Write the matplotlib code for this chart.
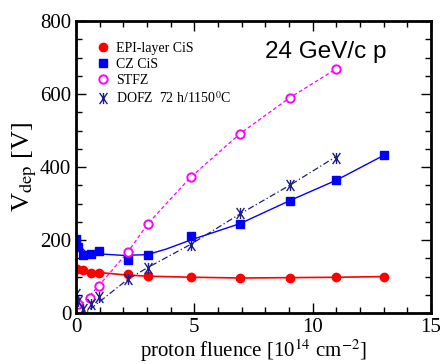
import matplotlib.pyplot as plt
from matplotlib.path import Path
from matplotlib.ticker import MultipleLocator

plt.rcParams['font.family'] = ['Liberation Serif', 'DejaVu Serif']
plt.rcParams['mathtext.fontset'] = 'stix'

# measured points (fluence in 1e14 cm^-2, V_dep in V)
epi_x = [0.03, 0.3, 0.62, 0.98, 2.18, 3.04, 4.86, 6.94, 9.03, 11.0, 13.0]
epi_y = [120, 117, 111, 109, 107, 101, 98, 95, 97, 98, 100]

cz_x = [0.0, 0.1, 0.3, 0.62, 0.98, 2.18, 3.04, 4.84, 6.93, 9.03, 11.0, 13.0]
cz_y = [204, 182, 160, 163, 171, 146, 160, 211, 245, 308, 364, 432]

stfz_x = [0.1, 0.6, 0.98, 2.18, 3.04, 4.84, 6.94, 9.03, 10.97]
stfz_y = [25, 40, 75, 167, 245, 372, 492, 590, 668]

dofz_x = [0.0, 0.1, 0.3, 0.62, 0.98, 2.18, 3.04, 4.84, 6.94, 9.03, 10.97]
dofz_y = [51, 33, 10, 26, 44, 92, 123, 186, 273, 350, 425]

# guide-to-the-eye curves
epi_fit_x = [0, 0.5, 1, 2, 3, 5, 7, 9, 11, 13]
epi_fit_y = [120, 115, 111, 105, 101, 98, 96, 97, 98, 100]
cz_fit_x = [0, 0.15, 0.4, 1, 2, 3, 3.8, 4.84, 6.93, 9.03, 11, 13]
cz_fit_y = [205, 185, 168, 162, 158, 160, 175, 200, 245, 308, 364, 432]
stfz_fit_x = [0.05, 1.0, 2.2, 3.04, 4.84, 6.94, 9.03, 10.97]
stfz_fit_y = [10, 78, 168, 245, 372, 492, 590, 668]
dofz_fit_x = [0, 0.3, 0.45, 2.18, 3.04, 4.84, 6.94, 9.03, 10.97]
dofz_fit_y = [50, 10, 3, 92, 125, 188, 272, 350, 428]

RED = '#ff0000'
BLUE = '#0000ff'
MAGENTA = '#ff00ff'
NAVY = '#1c1c8a'

# X with a vertical stroke
star = Path([(-0.7, -1), (0.7, 1), (-0.7, 1), (0.7, -1), (0, -1), (0, 1)],
            [Path.MOVETO, Path.LINETO, Path.MOVETO, Path.LINETO, Path.MOVETO, Path.LINETO])

fig = plt.figure(figsize=(4.4, 3.64), dpi=100)
ax = fig.add_axes([0.1727, 0.140, 0.8068, 0.802])

ax.plot(epi_fit_x, epi_fit_y, '-', color=RED, lw=1.2)
ax.plot(cz_fit_x, cz_fit_y, '-', color=BLUE, lw=1.0)
ax.plot(stfz_fit_x, stfz_fit_y, '--', color=MAGENTA, lw=0.9, dashes=(3, 2))
ax.plot(dofz_fit_x, dofz_fit_y, '-.', color=NAVY, lw=0.9, dashes=(5, 2, 1, 2))

ax.plot(epi_x, epi_y, 'o', color=RED, ms=6, label='EPI-layer CiS')
ax.plot(cz_x, cz_y, 's', color=BLUE, ms=6, label='CZ CiS')
ax.plot(stfz_x, stfz_y, 'o', mfc='white', mec=MAGENTA, mew=1.4, ms=6, label='STFZ')
ax.plot(dofz_x, dofz_y, ls='none', marker=star, color=NAVY, mew=1.0, ms=8,
        label='DOFZ  72 h/1150$^0$C')

ax.set_xlim(0, 15)
ax.set_ylim(0, 800)
ax.xaxis.set_major_locator(MultipleLocator(5))
ax.xaxis.set_minor_locator(MultipleLocator(1))
ax.yaxis.set_major_locator(MultipleLocator(200))
ax.yaxis.set_minor_locator(MultipleLocator(50))
ax.tick_params(which='both', direction='in', top=True, right=True, labelsize=15, width=1)
ax.tick_params(which='major', length=7)
ax.tick_params(which='minor', length=4)
for s in ax.spines.values():
    s.set_linewidth(2)

ax.set_xlabel('proton fluence [10$^{14}$ cm$^{-2}$]', fontsize=15, labelpad=0)
ax.set_ylabel('V$_{\\rm dep}$ [V]', fontsize=19)
ax.yaxis.set_label_coords(-0.105, 0.5)

ax.text(0.876, 0.894, '24 GeV/c p', transform=ax.transAxes, fontsize=17.5,
        family='Liberation Sans', ha='right', va='center')

ax.legend(loc='upper left', bbox_to_anchor=(0.025, 0.967), frameon=False, fontsize=10,
          handlelength=1.0, handletextpad=0.45, labelspacing=0.22, borderpad=0.3,
          numpoints=1)

fig.savefig('out.png', dpi=100)
plt.close(fig)
